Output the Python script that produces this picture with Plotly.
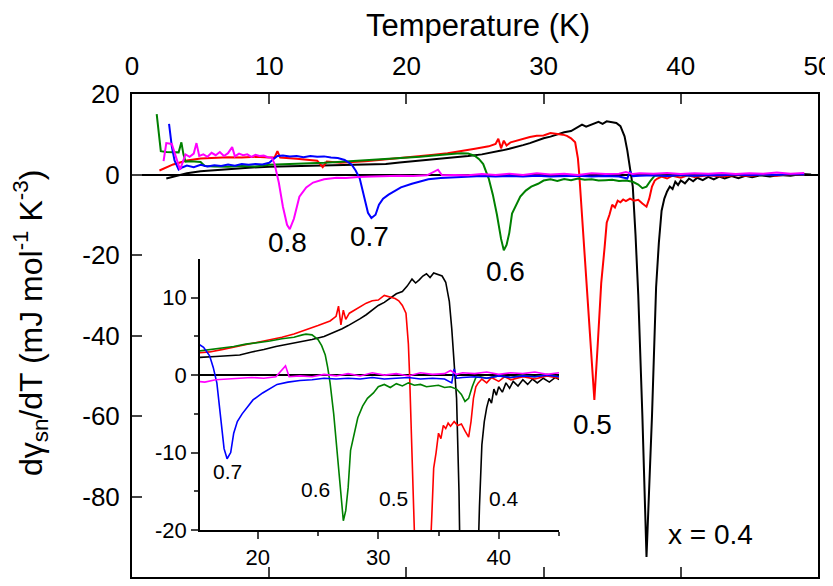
import plotly.graph_objects as go

# ---- data ----
black_T = [2.5, 3.0, 3.5, 4.0, 5.0, 6.0, 7.0, 8.5, 10.0, 11.5,
           13.0, 14.5, 15.5, 16.5, 17.5, 18.5, 19.5, 20.5, 21.5, 22.5,
           23.5, 24.5, 25.5, 26.5, 27.0, 27.5, 28.0, 28.5, 29.0, 29.5,
           30.0, 30.5, 31.0, 31.5, 32.0, 32.4, 32.8, 33.1, 33.4, 33.7,
           34.0, 34.3, 34.6, 35.0, 35.3, 35.6, 35.9, 36.1, 36.3, 36.5,
           36.7, 36.9, 37.2, 37.5, 37.9, 38.2, 38.4, 38.6, 38.8, 39.0,
           39.2, 39.4, 39.6, 39.8, 40.0, 40.3, 40.6, 40.9, 41.2, 41.6,
           42.0, 42.4, 42.8, 43.2, 43.7, 44.2, 44.7, 45.2, 45.8, 46.5,
           47.2, 48.0, 48.8, 49.5]
black_y = [-1.0, -0.6, -0.2, 0.3, 0.8, 1.1, 1.4, 1.7, 1.9, 2.0,
           2.1, 2.2, 2.3, 2.4, 2.5, 2.6, 3.0, 3.3, 3.7, 4.0,
           4.3, 4.6, 5.0, 5.6, 6.0, 6.4, 6.8, 7.3, 7.8, 8.4,
           9.0, 9.4, 9.9, 10.5, 10.8, 11.5, 12.4, 11.9, 12.3, 12.8,
           13.1, 12.6, 13.2, 13.0, 12.8, 12.0, 9.5, 6.0, 2.0, -3.0,
           -15.0, -30.0, -60.0, -95.0, -60.0, -28.0, -17.0, -9.0, -6.0, -4.2,
           -3.0, -3.6, -1.8, -2.6, -1.5, -2.2, -1.0, -1.7, -0.8, -1.4,
           -0.6, -1.2, -0.5, -1.0, -0.4, -0.9, -0.3, -0.7, -0.2, -0.5,
           -0.1, -0.3, 0.1, 0.0]

red_T = [2.0, 2.5, 3.0, 3.5, 4.0, 5.0, 6.0, 7.0, 8.0, 9.0,
         10.0, 10.4, 10.6, 10.8, 12.0, 13.5, 13.9, 14.2, 15.2, 16.0,
         17.0, 18.0, 19.0, 20.0, 21.0, 22.0, 23.0, 24.0, 25.0, 26.0,
         26.5, 26.7, 26.9, 27.1, 27.3, 27.6, 28.0, 28.5, 29.0, 29.5,
         30.0, 30.5, 31.0, 31.4, 31.7, 32.0, 32.3, 32.5, 32.6, 32.8,
         33.0, 33.2, 33.45, 33.7, 33.95, 34.2, 34.45, 34.6, 34.8, 35.0,
         35.2, 35.4, 35.6, 35.8, 36.0, 36.3, 36.6, 36.9, 37.2, 37.5,
         37.7, 37.9, 38.1, 38.3, 38.6, 39.0, 39.4, 40.0, 40.5, 41.0,
         42.0, 43.0, 44.0, 45.0, 46.0, 47.0, 48.0, 49.0]
red_y = [1.0, 1.8, 2.5, 3.0, 3.5, 4.0, 4.1, 4.3, 4.2, 4.4,
         4.2, 4.3, 5.8, 4.2, 3.9, 3.4, 1.8, 3.2, 2.9, 3.0,
         3.3, 3.6, 3.9, 4.2, 4.5, 4.9, 5.3, 5.8, 6.4, 7.0,
         7.6, 8.9, 6.5, 8.4, 7.2, 8.0, 8.4, 8.9, 9.3, 9.6,
         9.7, 10.3, 10.1, 9.9, 9.6, 9.0, 8.0, 4.0, 0.0, -10.0,
         -20.0, -30.0, -45.0, -56.0, -42.0, -27.0, -18.0, -12.0, -10.0, -7.5,
         -8.2, -6.5, -6.9, -6.2, -6.6, -6.0, -6.5, -6.3, -7.2, -8.0,
         -6.0, -3.0, -1.5, -1.0, -0.5, -1.0, -0.3, -0.8, -0.2, -0.6,
         -0.2, -0.5, -0.1, -0.4, 0.0, -0.3, 0.1, -0.1]

green_T = [1.8, 2.1, 2.5, 3.0, 3.4, 3.6, 3.75, 3.9, 4.3, 5.0,
           5.3, 6.0, 7.0, 8.0, 9.0, 10.0, 11.0, 12.0, 13.0, 14.0,
           15.0, 16.0, 17.0, 18.0, 19.0, 20.0, 21.0, 22.0, 23.0, 23.7,
           24.0, 24.5, 25.0, 25.3, 25.6, 25.8, 26.0, 26.3, 26.6, 26.9,
           27.1, 27.3, 27.5, 27.7, 28.0, 28.3, 28.7, 29.1, 29.6, 30.0,
           30.5, 31.0, 31.5, 32.0, 32.5, 33.0, 33.5, 34.0, 34.5, 35.0,
           35.5, 36.0, 36.5, 36.9, 37.2, 37.5, 37.8, 38.1, 38.5, 39.0,
           40.0, 41.0, 42.0, 43.0, 44.0, 45.0, 46.0, 47.0, 48.0, 49.0]
green_y = [15.0, 5.8, 5.6, 5.5, 5.5, 8.0, 5.0, 3.2, 3.3, 3.1,
           2.1, 2.0, 1.9, 2.1, 2.0, 2.4, 2.5, 2.6, 2.8, 2.9,
           3.1, 3.3, 3.5, 3.7, 4.0, 4.2, 4.4, 4.7, 4.9, 5.2,
           5.3, 5.2, 4.6, 3.8, 2.6, 1.0, -1.0, -5.0, -10.0, -16.0,
           -18.8, -17.5, -14.5, -9.7, -7.5, -5.5, -4.0, -3.0, -2.3, -1.5,
           -1.2, -1.6, -1.1, -1.4, -1.0, -1.3, -1.2, -1.5, -1.4, -1.3,
           -1.6, -1.5, -1.8, -2.5, -3.4, -3.0, -1.5, -0.3, -0.2, -0.4,
           -0.1, -0.3, 0.0, -0.2, 0.1, -0.2, 0.0, -0.1, 0.1, 0.0]

blue_T = [2.7, 2.9, 3.1, 3.4, 3.7, 4.0, 4.5, 5.0, 5.5, 6.0,
          6.5, 7.0, 7.5, 8.0, 8.5, 9.0, 9.5, 10.0, 10.3, 10.6,
          11.0, 11.5, 12.0, 12.5, 13.0, 13.5, 14.0, 14.5, 15.0, 15.5,
          16.0, 16.3, 16.6, 16.9, 17.2, 17.45, 17.75, 18.0, 18.3, 18.7,
          19.1, 19.6, 20.4, 21.0, 21.6, 22.5, 23.5, 24.5, 25.5, 26.5,
          27.5, 28.5, 29.5, 30.5, 31.5, 32.5, 33.5, 34.5, 35.5, 36.1,
          36.3, 36.5, 37.0, 38.0, 39.0, 40.0, 41.0, 42.0, 43.0, 44.0,
          45.0, 46.0, 47.0, 48.0, 49.0]
blue_y = [12.6, 7.0, 3.5, 1.2, 1.8, 2.2, 1.8, 2.4, 2.0, 2.3,
          2.1, 2.5, 2.2, 2.6, 2.4, 2.6, 2.5, 2.9, 3.8, 4.6,
          4.7, 4.5, 4.6, 4.3, 4.6, 4.4, 4.5, 4.2, 4.1, 3.6,
          2.5, 1.0, -1.0, -5.0, -9.5, -10.8, -10.0, -7.5, -6.0, -5.0,
          -4.2, -3.2, -2.3, -1.7, -1.2, -0.9, -0.7, -0.6, -0.4, -0.5,
          -0.4, -0.5, -0.3, -0.5, -0.4, -0.3, -0.5, -0.4, -0.5, -1.0,
          0.8, -0.4, -0.3, -0.2, -0.4, -0.1, -0.3, -0.1, -0.2, 0.0,
          -0.2, 0.0, -0.1, 0.1, 0.0]

magenta_T = [2.3, 2.5, 2.9, 3.2, 3.5, 3.9, 4.2, 4.5, 4.7, 4.9,
             5.2, 5.5, 5.8, 6.1, 6.4, 6.7, 7.0, 7.3, 7.5, 7.8,
             8.1, 8.4, 8.7, 9.0, 9.3, 9.6, 9.9, 10.2, 10.4, 10.7,
             11.0, 11.3, 11.5, 11.8, 12.2, 12.7, 13.2, 14.0, 14.9, 15.6,
             16.5, 17.5, 18.5, 19.5, 20.5, 21.5, 22.3, 22.6, 23.5, 24.5,
             25.5, 26.5, 27.5, 28.5, 29.5, 30.5, 31.5, 32.5, 33.5, 34.5,
             35.5, 36.0, 36.5, 37.0, 38.0, 39.0, 40.0, 41.0, 42.0, 43.0,
             44.0, 45.0, 46.0, 47.0, 48.0, 49.0]
magenta_y = [3.3, 7.8, 7.6, 4.5, 1.2, 5.0, 4.4, 5.2, 7.8, 4.6,
             5.0, 4.4, 5.4, 4.8, 5.6, 4.6, 5.3, 6.8, 4.5, 5.2,
             4.8, 5.0, 4.4, 4.9, 4.6, 4.7, 4.3, 4.2, 2.5, -2.0,
             -8.0, -12.5, -13.6, -11.0, -5.5, -3.2, -2.0, -1.2, -0.8, -0.9,
             -0.6, -0.5, -0.4, -0.3, -0.4, -0.2, 1.2, -0.2, -0.1, -0.2,
             0.1, -0.1, 0.2, -0.1, 0.3, 0.0, 0.2, -0.1, 0.3, 0.1,
             0.2, 0.6, 0.1, 0.3, 0.2, 0.4, 0.1, 0.3, 0.2, 0.4,
             0.1, 0.3, 0.2, 0.5, 0.2, 0.4]

series = [
    (black_T, black_y, "#000000"),
    (red_T, red_y, "#FF0000"),
    (green_T, green_y, "#008000"),
    (blue_T, blue_y, "#0000FF"),
    (magenta_T, magenta_y, "#FF00FF"),
]

main_yticks = [20, 0, -20, -40, -60, -80, -100]
inset_yticks = [10, 0, -10, -20]

main_labels = [("0.8", 11.3, -16.8), ("0.7", 17.3, -15.5), ("0.6", 27.2, -24.0),
               ("0.5", 33.6, -62.0), ("x = 0.4", 42.2, -89.5)]
inset_labels = [("0.7", 17.5, -12.5), ("0.6", 24.8, -14.8), ("0.5", 31.3, -15.9),
                ("0.4", 40.4, -15.9)]

FONT = "Liberation Sans, Arial, sans-serif"

fig = go.Figure()
for T, y, c in series:
    fig.add_trace(go.Scatter(x=T, y=y, mode="lines", line=dict(color=c, width=2),
                             xaxis="x", yaxis="y", showlegend=False))
for T, y, c in series:
    fig.add_trace(go.Scatter(x=T, y=y, mode="lines", line=dict(color=c, width=1.6),
                             xaxis="x2", yaxis="y2", showlegend=False))

ann = []
for txt, x, y in main_labels:
    ann.append(dict(x=x, y=y, xref="x", yref="y", text=txt, showarrow=False,
                    font=dict(size=28, color="black", family=FONT)))
for txt, x, y in inset_labels:
    ann.append(dict(x=x, y=y, xref="x2", yref="y2", text=txt, showarrow=False,
                    font=dict(size=21, color="black", family=FONT)))
ann.append(dict(x=0.505, y=1.141, xref="paper", yref="paper", text="Temperature (K)",
                xanchor="center", yanchor="middle", showarrow=False,
                font=dict(size=31, color="black", family=FONT)))
ann.append(dict(x=-0.147, y=0.526, xref="paper", yref="paper", textangle=-90,
                xanchor="center", yanchor="middle",
                text="dγ<sub>sn</sub>/dT (mJ mol<sup>-1</sup> K<sup>-3</sup>)",
                showarrow=False, font=dict(size=32, color="black", family=FONT)))

# the page body adds an 8px offset, so the figure is 8px smaller each way
fig.update_layout(
    width=825, height=578,
    margin=dict(l=124, r=15, t=86, b=9),
    paper_bgcolor="white", plot_bgcolor="white",
    font=dict(family=FONT, color="black"),
    annotations=ann,
    xaxis=dict(range=[0, 50], side="top", dtick=10, ticks="inside", ticklen=10,
               tickwidth=2, showline=True, linewidth=2, linecolor="black",
               mirror="ticks", showgrid=False, zeroline=False, automargin=False,
               tickfont=dict(size=26), ticklabelstandoff=7),
    yaxis=dict(range=[-100, 20], tickvals=main_yticks,
               ticktext=[str(v) for v in main_yticks], ticks="inside", ticklen=10,
               tickwidth=2, showline=True, linewidth=2, linecolor="black",
               mirror=True, showgrid=False, zeroline=True, zerolinecolor="black",
               zerolinewidth=2, automargin=False, tickfont=dict(size=26),
               ticklabelstandoff=5),
    xaxis2=dict(domain=[0.0991, 0.6224], anchor="y2", range=[15.2, 45], dtick=10,
                ticks="outside", ticklen=7, tickwidth=1.5, showline=True,
                linewidth=1.5, linecolor="black", showgrid=False, zeroline=False,
                automargin=False, tickfont=dict(size=22),
                minor=dict(dtick=5, ticks="outside", ticklen=4, tickwidth=1.5)),
    yaxis2=dict(domain=[0.0973, 0.6584], anchor="x2", range=[-20, 15],
                tickvals=inset_yticks, ticktext=[str(v) for v in inset_yticks],
                ticks="outside", ticklen=7, tickwidth=1.5, showline=True,
                linewidth=1.5, linecolor="black", showgrid=False, zeroline=True,
                zerolinecolor="black", zerolinewidth=1.5, automargin=False,
                tickfont=dict(size=22),
                minor=dict(tickvals=[-15, -5, 5], ticks="outside", ticklen=4,
                           tickwidth=1.5)),
)

fig.write_html("out.html")
